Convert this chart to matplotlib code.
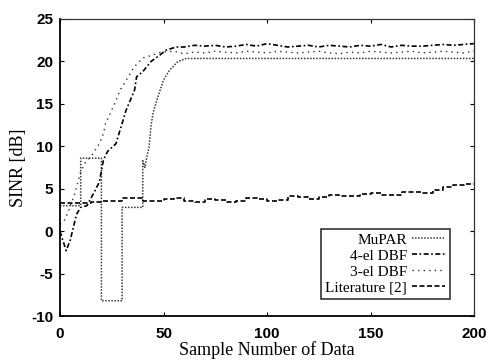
import matplotlib
matplotlib.use("Agg")
import matplotlib.pyplot as plt
import numpy as np

# ---- data ----
mupar_x = [0, 10, 10, 20, 20, 30, 30, 40, 40, 41, 42, 43, 44, 45, 47, 50, 53, 57, 61, 200]
mupar_y = [3.0, 3.0, 8.6, 8.6, -8.2, -8.2, 2.8, 2.8, 8.3, 7.5, 8.8, 9.9, 12.5, 14.0, 15.6, 17.8, 19.0, 20.0, 20.35, 20.35]

el4_x = [0, 1, 3, 5, 8, 10, 13, 17, 19, 21, 23, 27, 30, 32, 36, 37, 40, 44, 48, 51, 56,
         60, 65, 70, 75, 80, 85, 90, 95, 100, 105, 110, 115, 120, 125, 130, 135, 140,
         145, 150, 155, 160, 165, 170, 175, 180, 185, 190, 195, 200]
el4_y = [0.0, -0.8, -2.3, -1.0, 2.0, 2.8, 3.0, 4.8, 5.8, 8.4, 9.4, 10.3, 12.7, 14.3, 16.6, 18.2, 18.8, 20.0, 20.7, 21.3, 21.7,
         21.7, 21.9, 21.8, 21.9, 21.7, 21.8, 22.0, 21.8, 22.1, 21.9, 21.7, 21.8, 21.9, 21.7, 21.9,
         21.8, 21.7, 21.9, 21.8, 22.0, 21.7, 21.9, 21.8, 21.8, 21.9, 22.0, 21.9, 22.0, 22.1]

el3_x = [0, 2, 4, 7, 10, 12, 15, 19, 21, 22, 24, 27, 29, 32, 36, 40, 44, 49, 55,
         60, 65, 70, 75, 80, 85, 90, 95, 100, 105, 110, 115, 120, 125, 130, 135, 140,
         145, 150, 155, 160, 165, 170, 175, 180, 185, 190, 195, 200]
el3_y = [0.8, 1.2, 2.3, 4.3, 7.0, 8.0, 8.8, 10.3, 11.5, 12.7, 13.7, 15.4, 16.6, 17.8, 19.4, 20.4, 20.7, 21.1, 21.2,
         20.9, 21.1, 21.0, 21.2, 21.1, 21.0, 21.2, 21.1, 21.0, 21.2, 21.1, 21.0, 21.1, 21.2, 21.0,
         20.9, 21.1, 21.0, 21.2, 21.1, 21.0, 21.1, 21.2, 21.0, 21.1, 21.2, 21.1, 21.0, 21.2]

lit_x = list(range(0, 201, 5))
lit_y = [3.3, 3.3, 3.3, 3.4, 3.5, 3.5, 3.9, 3.9, 3.5, 3.5, 3.8, 3.9, 3.5, 3.4, 3.8, 3.7, 3.4,
         3.5, 3.9, 3.8, 3.6, 3.7, 4.1, 4.0, 3.8, 4.0, 4.3, 4.2, 4.1, 4.4, 4.5, 4.3, 4.3, 4.6,
         4.6, 4.5, 4.8, 5.2, 5.4, 5.5, 5.6]

labels = ["MuPAR", "4-el DBF", "3-el DBF", "Literature [2]"]
xticks = [0, 50, 100, 150, 200]
yticks = [-10, -5, 0, 5, 10, 15, 20, 25]

# ---- figure ----
W, H = 493, 360
fig = plt.figure(figsize=(W / 100, H / 100), dpi=100)
ax = fig.add_axes([60 / W, 1 - 316 / H, 414 / W, 297 / H])

ax.plot(mupar_x, mupar_y, color="#3a3a3a", lw=1.1, ls=(0, (1, 1)), label=labels[0])
ax.plot(el4_x, el4_y, color="black", lw=1.2, ls=(0, (3, 1.5, 1, 1.5)), label=labels[1])
ax.plot(el3_x, el3_y, color="#303030", lw=1.0, ls=(0, (1, 3)), label=labels[2])
ax.plot(lit_x, lit_y, color="black", lw=1.2, ls=(0, (3, 1.5)), drawstyle="steps-post", label=labels[3])

ax.set_xlim(0, 200)
ax.set_ylim(-10, 25)
ax.set_xticks(xticks)
ax.set_yticks(yticks)

tick_font = dict(family="Liberation Sans", weight="bold", size=11)
ax.set_xticklabels([str(t) for t in xticks], fontdict=tick_font)
ax.set_yticklabels([str(t) for t in yticks], fontdict=tick_font)
ax.tick_params(direction="in", top=True, right=True, length=3, width=0.8)
ax.tick_params(axis="x", pad=8)
ax.tick_params(axis="y", pad=5)

for s in ["left", "bottom"]:
    ax.spines[s].set_linewidth(1.3)
    ax.spines[s].set_color("black")
for s in ["top", "right"]:
    ax.spines[s].set_linewidth(0.9)
    ax.spines[s].set_color("#333333")

label_font = dict(family="Liberation Serif", size=13)
ax.set_xlabel("Sample Number of Data", fontdict=label_font)
ax.set_ylabel("SINR [dB]", fontdict=label_font)
ax.xaxis.set_label_coords(0.5, -0.085)
ax.yaxis.set_label_coords(-0.08, 0.5)

leg = ax.legend(loc="lower right", bbox_to_anchor=(0.942, 0.056), borderaxespad=0,
                markerfirst=False, frameon=True, fancybox=False, shadow=False,
                prop=dict(family="Liberation Serif", size=11),
                handlelength=2.2, handletextpad=0.3, borderpad=0.3, labelspacing=0.15)
leg.get_frame().set_edgecolor("black")
leg.get_frame().set_linewidth(1.2)

fig.savefig("out.png", dpi=100)
